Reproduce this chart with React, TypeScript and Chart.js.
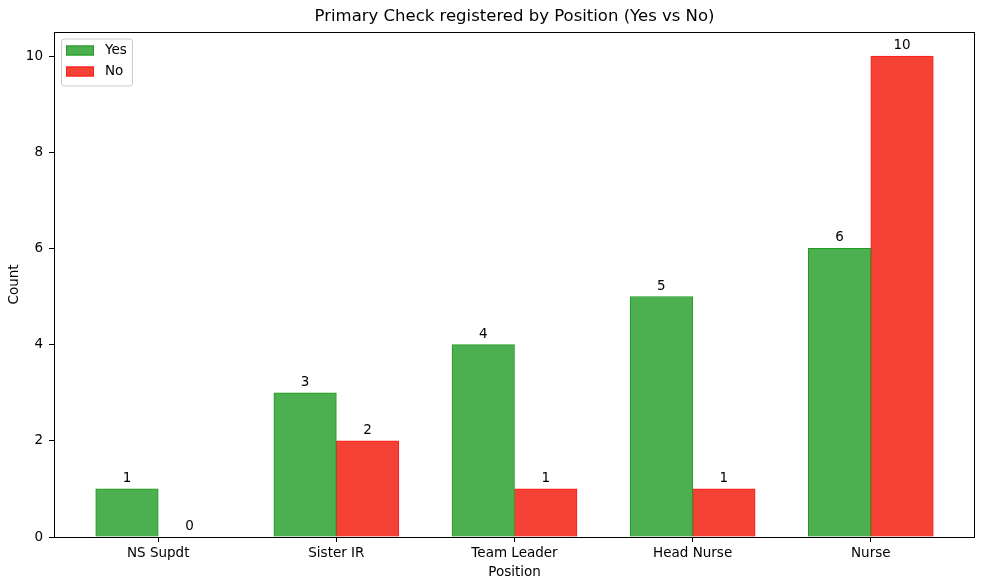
import React, { useEffect, useRef } from "react";
import { Chart, registerables } from "chart.js";

Chart.register(...registerables);

const categories = ["NS Supdt", "Sister IR", "Team Leader", "Head Nurse", "Nurse"];
const yesValues = [1, 3, 4, 5, 6];
const noValues = [0, 2, 1, 1, 10];
const yTicks = [0, 2, 4, 6, 8, 10];
const titleText = "Primary Check registered by Position (Yes vs No)";
const xTitle = "Position";
const yTitle = "Count";
const seriesNames = ["Yes", "No"];

const FONT = "'DejaVu Sans', sans-serif";
const GREEN_FILL = "#4CAF50";
const GREEN_EDGE = "#1f9a1f";
const RED_FILL = "#F44336";
const RED_EDGE = "#FF1a1a";

const decorPlugin = {
  id: "decor",
  afterDatasetsDraw(chart: any) {
    const { ctx, chartArea } = chart;
    const { left, right, top, bottom } = chartArea;
    ctx.save();
    // frame
    ctx.strokeStyle = "#000";
    ctx.lineWidth = 1;
    ctx.strokeRect(Math.round(left) + 0.5, Math.round(top) + 0.5, Math.round(right - left) - 1, Math.round(bottom - top));
    // value labels
    ctx.fillStyle = "#000";
    ctx.font = `13.5px ${FONT}`;
    ctx.textAlign = "center";
    ctx.textBaseline = "alphabetic";
    chart.data.datasets.forEach((ds: any, di: number) => {
      const meta = chart.getDatasetMeta(di);
      meta.data.forEach((bar: any, i: number) => {
        const v = ds.data[i].y;
        ctx.fillText(String(v), bar.x, bar.y - 7);
      });
    });
    // title
    ctx.font = `16.5px ${FONT}`;
    ctx.textBaseline = "middle";
    ctx.fillText(titleText, (left + right) / 2, 17);
    // axis titles
    ctx.font = `13.5px ${FONT}`;
    ctx.fillText(xTitle, (left + right) / 2, 572);
    ctx.save();
    ctx.translate(14, (top + bottom) / 2);
    ctx.rotate(-Math.PI / 2);
    ctx.fillText(yTitle, 0, 0);
    ctx.restore();
    // legend
    const lx = 61.5, ly = 39, lw = 71, lh = 47, r = 3;
    ctx.beginPath();
    ctx.moveTo(lx + r, ly);
    ctx.lineTo(lx + lw - r, ly);
    ctx.quadraticCurveTo(lx + lw, ly, lx + lw, ly + r);
    ctx.lineTo(lx + lw, ly + lh - r);
    ctx.quadraticCurveTo(lx + lw, ly + lh, lx + lw - r, ly + lh);
    ctx.lineTo(lx + r, ly + lh);
    ctx.quadraticCurveTo(lx, ly + lh, lx, ly + lh - r);
    ctx.lineTo(lx, ly + r);
    ctx.quadraticCurveTo(lx, ly, lx + r, ly);
    ctx.closePath();
    ctx.fillStyle = "rgba(255,255,255,0.8)";
    ctx.fill();
    ctx.strokeStyle = "#cccccc";
    ctx.stroke();
    const fills = [GREEN_FILL, RED_FILL];
    const edges = [GREEN_EDGE, RED_EDGE];
    const rows = [50.5, 71.5];
    seriesNames.forEach((name, i) => {
      ctx.fillStyle = fills[i];
      ctx.fillRect(66, rows[i] - 5, 28, 10);
      ctx.strokeStyle = edges[i];
      ctx.strokeRect(66.5, rows[i] - 4.5, 27, 9);
      ctx.fillStyle = "#000";
      ctx.textAlign = "left";
      ctx.textBaseline = "middle";
      ctx.font = `13.5px ${FONT}`;
      ctx.fillText(name, 105, rows[i]);
    });
    ctx.restore();
  },
};

export default function App() {
  const ref = useRef<HTMLCanvasElement | null>(null);
  useEffect(() => {
    document.body.style.margin = "0";
    const canvas = ref.current;
    if (!canvas) return;
    const chart = new Chart(canvas, {
      type: "bar",
      data: {
        datasets: [
          {
            label: seriesNames[0],
            data: yesValues.map((v, i) => ({ x: i, y: v })),
            backgroundColor: GREEN_FILL,
            borderColor: GREEN_EDGE,
            borderWidth: 1,
            barThickness: 62.5,
          },
          {
            label: seriesNames[1],
            data: noValues.map((v, i) => ({ x: i, y: v })),
            backgroundColor: RED_FILL,
            borderColor: RED_EDGE,
            borderWidth: 1,
            barThickness: 62.5,
          },
        ],
      },
      options: {
        animation: false,
        responsive: false,
        events: [],
        layout: { padding: { top: 32, right: 6, left: 0, bottom: 0 } },
        plugins: {
          legend: { display: false },
          title: { display: false },
          tooltip: { enabled: false },
        },
        scales: {
          x: {
            type: "linear",
            offset: false,
            min: -0.585,
            max: 4.585,
            grid: { display: true, offset: false, drawOnChartArea: false, drawTicks: true, tickLength: 5, color: "#000" },
            border: { display: false },
            ticks: {
              color: "#000",
              font: { family: FONT, size: 13.5 },
              padding: 3,
              autoSkip: false,
              maxRotation: 0,
              callback: (v: any) => categories[Math.round(Number(v))] ?? "",
            },
            afterBuildTicks: (scale: any) => {
              scale.ticks = categories.map((_, i) => ({ value: i }));
            },
            afterFit: (scale: any) => {
              scale.height = 45;
            },
          },
          y: {
            min: 0,
            max: 10.5,
            grid: { display: true, drawOnChartArea: false, drawTicks: true, tickLength: 5, color: "#000" },
            border: { display: false },
            ticks: {
              color: "#000",
              font: { family: FONT, size: 13.5 },
              padding: 6,
            },
            afterBuildTicks: (scale: any) => {
              scale.ticks = yTicks.map((v) => ({ value: v }));
            },
            afterFit: (scale: any) => {
              scale.width = 54;
            },
          },
        },
      },
      plugins: [decorPlugin],
    } as any);
    return () => chart.destroy();
  }, []);
  return (
    <div style={{ width: 981, height: 582, background: "#fff" }}>
      <canvas ref={ref} width={981} height={582} style={{ display: "block" }} />
    </div>
  );
}
